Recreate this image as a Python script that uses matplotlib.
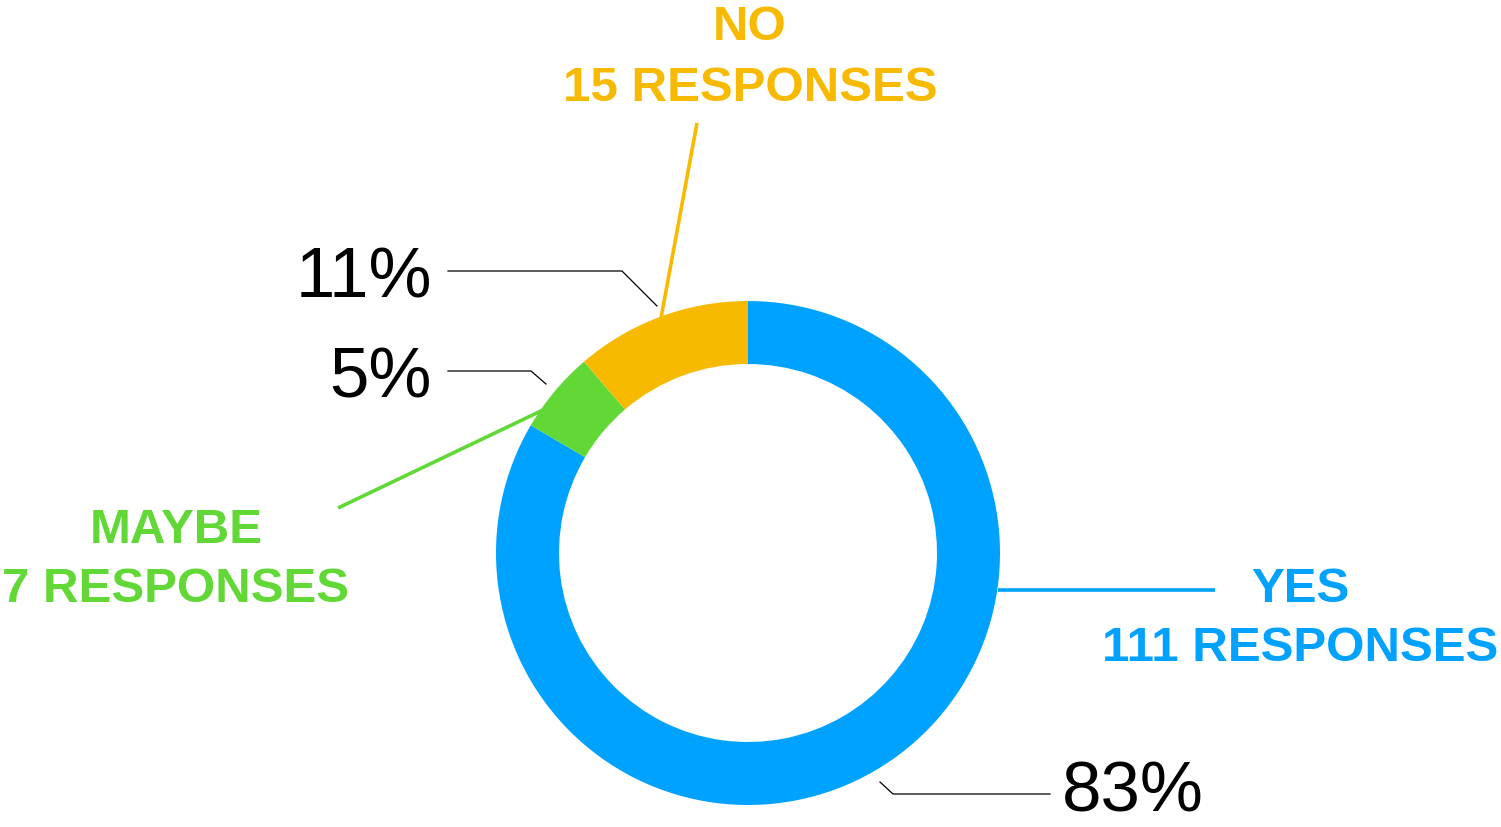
import matplotlib
matplotlib.use("Agg")
import matplotlib.pyplot as plt

categories = ["YES", "MAYBE", "NO"]
responses = [111, 7, 15]
colors = ["#00A2FF", "#61D836", "#F8BA00"]

W, H = 1501, 827
fig = plt.figure(figsize=(W / 100, H / 100), dpi=100)
ax = fig.add_axes([0, 0, 1, 1])
ax.set_xlim(0, W)
ax.set_ylim(0, H)
ax.set_aspect("equal")
ax.axis("off")

def Y(y):
    return H - y

cx, cy, R, ring = 748, Y(553), 252, 63
ax.pie(responses, colors=colors, startangle=90, counterclock=False,
       center=(cx, cy), radius=R, frame=True,
       wedgeprops=dict(width=ring, linewidth=0))
ax.set_xlim(0, W)
ax.set_ylim(0, H)
ax.axis("off")

total = sum(responses)
pcts = [f"{round(100 * v / total)}%" for v in responses]

bold = dict(family="Liberation Sans", weight="bold", fontsize=35.5, ha="center", va="baseline")
reg = dict(family="Liberation Sans", fontsize=51, color="black", va="baseline")

# category labels
label_pos = {"YES": (1300, 602, 661), "MAYBE": (176, 543, 602), "NO": (750, 40, 101)}
for cat, n, col in zip(categories, responses, colors):
    x, y1, y2 = label_pos[cat]
    ax.text(x, Y(y1), cat, color=col, **bold)
    ax.text(x, Y(y2), f"{n} RESPONSES", color=col, **bold)

# coloured leader lines
ax.plot([998, 1215], [Y(590), Y(590)], color=colors[0], lw=2.6, solid_capstyle="butt")
ax.plot([338, 543], [Y(508), Y(410)], color=colors[1], lw=2.6, solid_capstyle="butt")
ax.plot([697, 661], [Y(123), Y(318)], color=colors[2], lw=2.6, solid_capstyle="butt")

# percentage labels and thin leaders
ax.text(1062, Y(812), pcts[0], ha="left", **reg)
ax.text(432, Y(397), pcts[1], ha="right", **reg)
ax.text(432, Y(297), pcts[2], ha="right", **reg)
ax.plot([1050, 893, 880], [Y(794), Y(794), Y(782)], color="black", lw=0.9)
ax.plot([448, 531, 546], [Y(371), Y(371), Y(384)], color="black", lw=0.9)
ax.plot([448, 622, 657], [Y(271), Y(271), Y(306)], color="black", lw=0.9)

fig.savefig("out.png", dpi=100, facecolor="white")
